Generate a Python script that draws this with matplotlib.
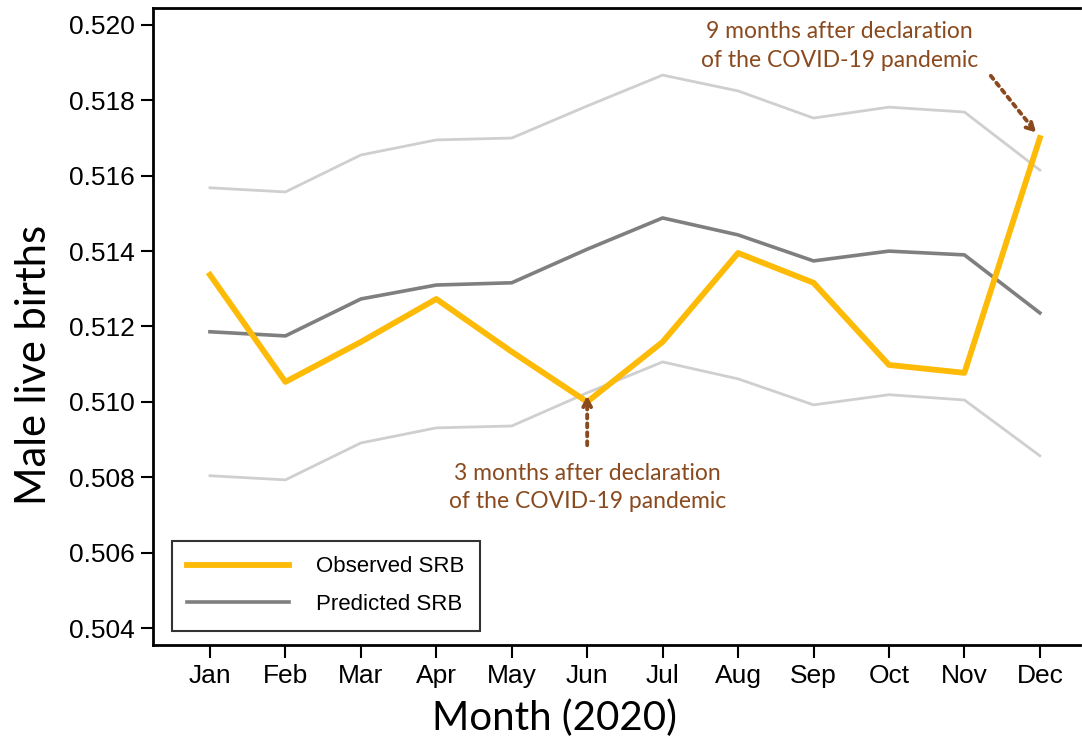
import matplotlib.pyplot as plt
import numpy as np

# Data
months = ['Jan', 'Feb', 'Mar', 'Apr', 'May', 'Jun', 'Jul', 'Aug', 'Sep', 'Oct', 'Nov', 'Dec']
observed = [0.51337, 0.51053, 0.51159, 0.51273, 0.51133, 0.51000,
            0.51159, 0.51395, 0.51316, 0.51098, 0.51077, 0.51700]
predicted = [0.51186, 0.51175, 0.51273, 0.51310, 0.51316, 0.51405,
             0.51488, 0.51443, 0.51374, 0.51400, 0.51390, 0.51236]
upper = [0.51568, 0.51557, 0.51655, 0.51695, 0.51700, 0.51785,
         0.51867, 0.51825, 0.51753, 0.51782, 0.51769, 0.51615]
lower = [0.50804, 0.50793, 0.50891, 0.50931, 0.50936, 0.51024,
         0.51106, 0.51061, 0.50992, 0.51019, 0.51005, 0.50857]

x = np.arange(1, len(months) + 1)
brown = '#8a4a1e'

fig = plt.figure(figsize=(10.82, 7.49), dpi=100)
ax = fig.add_axes([0.1414, 0.1389, 0.8566, 0.8504])

ax.plot(x, upper, color='#cfcfcf', lw=2, zorder=1)
ax.plot(x, lower, color='#cfcfcf', lw=2, zorder=1)
ax.plot(x, predicted, color='#7f7f7f', lw=2.6, label='Predicted SRB', zorder=2)
ax.plot(x, observed, color='#fdbb07', lw=4.2, label='Observed SRB', zorder=3)

ax.set_xlim(0.245, 12.53)
ax.set_ylim(0.50355, 0.52045)
ax.set_xticks(x)
ax.set_xticklabels(months, family='Liberation Sans', fontsize=19)
yt = np.arange(0.504, 0.5201, 0.002)
ax.set_yticks(yt)
ax.set_yticklabels([f'{v:.3f}' for v in yt], family='Liberation Sans', fontsize=19)
ax.tick_params(length=9, width=1.5, direction='out', pad=4)
ax.tick_params(axis='x', pad=5)
for s in ax.spines.values():
    s.set_linewidth(2)
ax.spines['right'].set_visible(False)

ax.set_xlabel('Month (2020)', family='Lato', fontsize=29)
ax.set_ylabel('Male live births', family='Lato', fontsize=30)
ax.xaxis.set_label_coords(0.433, -0.085)
ax.yaxis.set_label_coords(-0.108, 0.44)


def dotted_arrow(tip, tail, back):
    # dotted shaft, then a short solid segment at the tip to carry the head
    ax.annotate('', xy=tip, xytext=tail,
                arrowprops=dict(arrowstyle='-', color=brown, lw=2.8,
                                linestyle=(0, (1, 1.3)), shrinkA=0, shrinkB=4))
    ax.annotate('', xy=tip, xytext=back, textcoords='offset points',
                arrowprops=dict(arrowstyle='->,head_length=0.5,head_width=0.28',
                                color=brown, lw=2.8, shrinkA=0, shrinkB=0), zorder=4)


dotted_arrow((6, 0.51015), (6, 0.50885), (0, -5))
ax.text(6, 0.50773, '3 months after declaration\nof the COVID-19 pandemic',
        ha='center', va='center', color=brown, family='Lato', fontsize=16.5,
        linespacing=1.45)
dotted_arrow((11.95, 0.51715), (11.35, 0.51865), (-3.5, 3.5))
ax.text(9.34, 0.51945, '9 months after declaration\nof the COVID-19 pandemic',
        ha='center', va='center', color=brown, family='Lato', fontsize=16.5,
        linespacing=1.45)

handles, labels = ax.get_legend_handles_labels()
leg = ax.legend(handles[::-1], labels[::-1], loc='lower left',
                bbox_to_anchor=(0.008, 0.005), prop={'family': 'Liberation Sans', 'size': 16},
                frameon=True, fancybox=False, edgecolor='black',
                handlelength=4.6, handletextpad=1.2, borderpad=0.7, labelspacing=0.75)
leg.get_frame().set_linewidth(1.5)

fig.savefig('out.png', dpi=100)
